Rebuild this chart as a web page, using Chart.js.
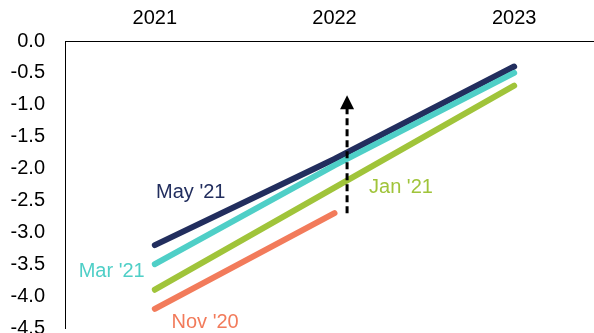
<!DOCTYPE html>
<html>
<head>
<meta charset="utf-8">
<script src="https://cdn.jsdelivr.net/npm/chart.js@4"></script>
<style>
  html, body { margin: 0; padding: 0; background: #fff; overflow: hidden; }
</style>
</head>
<body>
<canvas id="grafico" width="604" height="355"></canvas>
<script>
// dados
const anos = [2021, 2022, 2023];
const mai21 = [-3.2, -1.85, -0.4];
const mar21 = [-3.5, -1.95, -0.5];
const jan21 = [-3.9, -2.3, -0.7];
const nov20 = [-4.2, -2.7];
const rotulosY = ['0.0', '-0.5', '-1.0', '-1.5', '-2.0', '-2.5', '-3.0', '-3.5', '-4.0', '-4.5'];

// rótulos das séries (posição em coordenadas dos dados)
const rotulos = [
  { texto: "May '21", x: 2021.2, y: -2.38, cor: '#222e5e' },
  { texto: "Mar '21", x: 2020.76, y: -3.61, cor: '#4fcfc7' },
  { texto: "Jan '21", x: 2022.37, y: -2.29, cor: '#a0c43a' },
  { texto: "Nov '20", x: 2021.28, y: -4.42, cor: '#f27b5b' }
];
// seta tracejada
const seta = { x: 2022.07, de: -2.7, ate: -0.85 };

const fonte = '"Liberation Sans", Arial, sans-serif';

const pontos = (vals) => vals.map((v, i) => ({ x: anos[i], y: v }));

const serie = (label, vals, cor) => ({
  label,
  data: pontos(vals),
  borderColor: cor,
  backgroundColor: cor,
  borderWidth: 6,
  borderCapStyle: 'round',
  pointRadius: 0,
  tension: 0
});

const pluginAnotacoes = {
  id: 'anotacoes',
  afterDatasetsDraw(chart) {
    const { ctx, scales } = chart;
    const sx = scales.x, sy = scales.y;
    ctx.save();
    ctx.font = '20px ' + fonte;
    ctx.textAlign = 'center';
    ctx.textBaseline = 'middle';
    rotulos.forEach(r => {
      ctx.fillStyle = r.cor;
      ctx.fillText(r.texto, sx.getPixelForValue(r.x), sy.getPixelForValue(r.y));
    });

    const ax = sx.getPixelForValue(seta.x);
    const y0 = sy.getPixelForValue(seta.de);
    const y1 = sy.getPixelForValue(seta.ate);
    ctx.strokeStyle = '#000';
    ctx.lineWidth = 3;
    ctx.setLineDash([7, 4]);
    ctx.beginPath();
    ctx.moveTo(ax, y0);
    ctx.lineTo(ax, y1 + 12);
    ctx.stroke();
    ctx.setLineDash([]);
    ctx.fillStyle = '#000';
    ctx.beginPath();
    ctx.moveTo(ax, y1);
    ctx.lineTo(ax - 7, y1 + 14);
    ctx.lineTo(ax + 7, y1 + 14);
    ctx.closePath();
    ctx.fill();
    ctx.restore();
  }
};

new Chart(document.getElementById('grafico').getContext('2d'), {
  type: 'line',
  data: {
    datasets: [
      serie("Nov '20", nov20, '#f27b5b'),
      serie("Jan '21", jan21, '#a0c43a'),
      serie("Mar '21", mar21, '#4fcfc7'),
      serie("May '21", mai21, '#222e5e')
    ]
  },
  options: {
    responsive: false,
    animation: false,
    layout: { padding: { top: 3, left: 0, right: 0, bottom: 7 } },
    plugins: { legend: { display: false }, tooltip: { enabled: false } },
    scales: {
      x: {
        type: 'linear',
        position: 'top',
        min: 2020.5,
        max: 2023.5,
        afterBuildTicks: (s) => { s.ticks = anos.map(v => ({ value: v })); },
        afterFit: (s) => { s.height = 38; },
        grid: { display: false, drawTicks: false },
        border: { display: true, color: '#000', width: 1 },
        ticks: {
          color: '#000',
          padding: 11,
          maxRotation: 0,
          font: { size: 20, family: fonte },
          callback: (v) => String(v)
        }
      },
      y: {
        min: -4.5,
        max: 0,
        afterBuildTicks: (s) => { s.ticks = rotulosY.map(t => ({ value: parseFloat(t) })); },
        afterFit: (s) => { s.width = 65; },
        grid: { display: false, drawOnChartArea: false, drawTicks: true, tickLength: 5, color: '#000' },
        border: { display: true, color: '#000', width: 1 },
        ticks: {
          color: '#000',
          padding: 15,
          font: { size: 20, family: fonte },
          callback: (v) => v.toFixed(1)
        }
      }
    }
  },
  plugins: [pluginAnotacoes]
});
</script>
</body>
</html>
